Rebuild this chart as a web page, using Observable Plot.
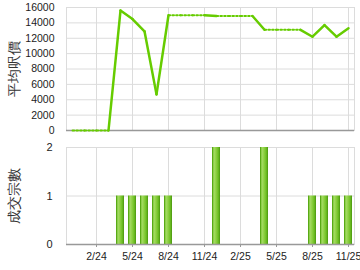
<!DOCTYPE html>
<html><head><meta charset="utf-8">
<script src="https://cdn.jsdelivr.net/npm/d3@7"></script>
<script src="https://cdn.jsdelivr.net/npm/@observablehq/plot@0.6"></script>
<style>
body{margin:0;background:#fff;}
#c{width:360px;height:270px;overflow:hidden;}
#c svg{display:block;}
</style>
</head><body><div id="c"></div>
<script>
const months = ["12/23","1/24","2/24","3/24","4/24","5/24","6/24","7/24","8/24","9/24","10/24","11/24",
  "12/24","1/25","2/25","3/25","4/25","5/25","6/25","7/25","8/25","9/25","10/25","11/25"];
const avgPrice = [0,0,0,0,15600,14500,12900,4700,15000,15000,15000,15000,
  14900,14900,14900,14900,13100,13100,13100,13100,12200,13700,12200,13300];
const deals = [0,0,0,0,1,1,1,1,1,0,0,0,2,0,0,0,2,0,0,0,1,1,1,1];
const tickMonths = ["2/24","5/24","8/24","11/24","2/25","5/25","8/25","11/25"];
const priceTicks = [0,2000,4000,6000,8000,10000,12000,14000,16000];
const dealTicks = [0,1,2];
const topTitle = ["平均呎價"];
const bottomTitle = ["成交宗數"];

const green = "#66cc00";
const font = "'Liberation Sans', Arial, sans-serif";

// build line segments: solid when the end month has transactions, dotted otherwise
const segs = [];
for (let i = 0; i < months.length - 1; i++) {
  const solid = deals[i + 1] > 0;
  segs.push({seg: i, solid, m: months[i], v: avgPrice[i]});
  segs.push({seg: i, solid, m: months[i + 1], v: avgPrice[i + 1]});
}
const dealData = months.map((m, i) => ({m, d: deals[i]}));

const xOpts = {type: "band", domain: months, paddingInner: 0.33, paddingOuter: 0.165, axis: null};

const priceChart = Plot.plot({
  width: 360, height: 137,
  marginLeft: 66, marginRight: 6, marginTop: 7, marginBottom: 7,
  style: {fontFamily: font, fontSize: "10px", color: "#222", background: "#fff"},
  x: xOpts,
  y: {domain: [0, 16000], ticks: priceTicks, axis: null},
  marks: [
    Plot.gridY(priceTicks, {stroke: "#dcdcdc", strokeOpacity: 1}),
    Plot.gridX(tickMonths, {stroke: "#dcdcdc", strokeOpacity: 1}),
    Plot.frame({stroke: "#dcdcdc"}),
    Plot.axisY(priceTicks, {tickSize: 0, tickPadding: 12, label: null, fontSize: 10.5, tickFormat: d => String(d)}),
    Plot.ruleY([0], {stroke: "#999", strokeWidth: 1.5}),
    Plot.line(segs.filter(d => d.solid), {x: "m", y: "v", z: "seg", stroke: green, strokeWidth: 2.5, strokeLinejoin: "miter"}),
    Plot.line(segs.filter(d => !d.solid), {x: "m", y: "v", z: "seg", stroke: green, strokeWidth: 2, strokeDasharray: "1.7,2.1"}),
    Plot.text(topTitle, {frameAnchor: "left", dx: -52, rotate: -90, text: d => d, fontSize: 13.5, fill: "#333", textAnchor: "middle"})
  ]
});

const dealChart = Plot.plot({
  width: 360, height: 133,
  marginLeft: 66, marginRight: 6, marginTop: 10, marginBottom: 26,
  style: {fontFamily: font, fontSize: "10px", color: "#222", background: "#fff"},
  x: xOpts,
  y: {domain: [0, 2], axis: null},
  marks: [
    Plot.gridY(dealTicks, {stroke: "#dcdcdc", strokeOpacity: 1}),
    Plot.gridX(tickMonths, {stroke: "#dcdcdc", strokeOpacity: 1}),
    Plot.frame({stroke: "#dcdcdc"}),
    Plot.axisY(dealTicks, {tickSize: 0, tickPadding: 14, label: null, fontSize: 11}),
    Plot.barY(dealData, {x: "m", y: "d", fill: "url(#barGrad)"}),
    Plot.axisX(tickMonths, {tickSize: 3, tickPadding: 5, label: null, fontSize: 10.5, stroke: "#999"}),
    Plot.ruleY([0], {stroke: "#999", strokeWidth: 1.5}),
    Plot.text(bottomTitle, {frameAnchor: "left", dx: -52, rotate: -90, text: d => d, fontSize: 13.5, fill: "#333", textAnchor: "middle"})
  ]
});

// gradient for bars
const defs = d3.select(dealChart).insert("defs", ":first-child");
const g = defs.append("linearGradient").attr("id", "barGrad").attr("x1", "0").attr("x2", "1").attr("y1", "0").attr("y2", "0");
[["0%", "#4f9e10"], ["14%", "#66b81e"], ["22%", "#a8de6a"], ["50%", "#8fd045"], ["78%", "#6cbf22"], ["100%", "#4a9410"]]
  .forEach(([o, c]) => g.append("stop").attr("offset", o).attr("stop-color", c));

document.getElementById("c").append(priceChart, dealChart);
</script>
</body></html>
